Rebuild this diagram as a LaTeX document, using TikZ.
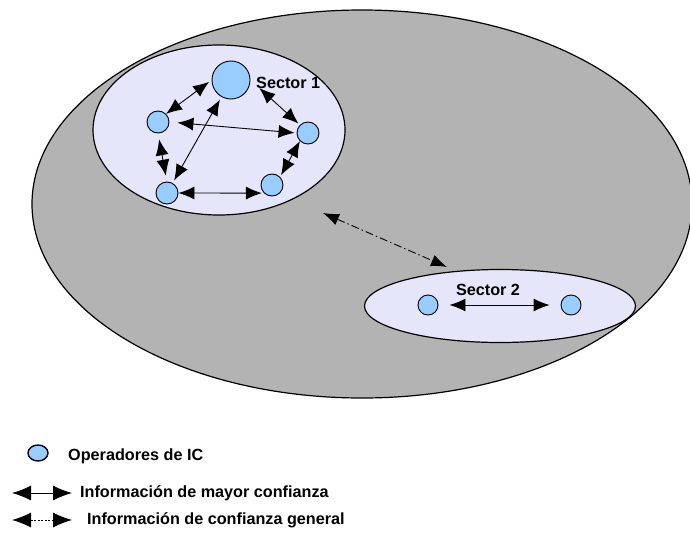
\documentclass[tikz,border=0pt]{standalone}
\usepackage{fontspec}
\setmainfont{Liberation Sans}
\usetikzlibrary{arrows.meta,shapes.geometric}
\definecolor{zonegray}{RGB}{179,179,179}
\definecolor{sectorfill}{RGB}{230,230,250}
\definecolor{icblue}{RGB}{153,204,255}

\tikzset{
  ic/.style={circle,draw,line width=0.9pt,fill=icblue,minimum size=22pt,inner sep=0pt},
  sector/.style={ellipse,draw,line width=1.2pt,fill=sectorfill,inner sep=0pt},
  lbl/.style={font=\fontsize{16.2}{19}\selectfont\bfseries,inner sep=0pt},
  trust/.style={{Latex[length=16pt,width=13pt]}-{Latex[length=16pt,width=13pt]},line width=0.9pt},
  keytrust/.style={{Latex[length=19pt,width=15pt]}-{Latex[length=19pt,width=15pt]},line width=0.9pt},
  general/.style={{Latex[length=16pt,width=12pt]}-{Latex[length=16pt,width=12pt]},line width=0.9pt,
    dash pattern=on 8pt off 3pt on 1.5pt off 3pt}
}

\begin{document}
\begin{tikzpicture}[x=1pt,y=-1pt]
    \useasboundingbox (0,0) rectangle (690,538);

    % whole zone
    \begin{scope}
    \clip (0,0) rectangle (690,538);
    \draw[line width=1.2pt,fill=zonegray] (362,204) ellipse [x radius=330pt,y radius=194pt];
    \end{scope}

    % sector 1
    \node[sector,minimum width=252pt,minimum height=170pt] (s1) at (219,130) {};
    \node[ic,minimum size=38pt] (big) at (231,80) {};
    \node[ic] (left) at (158,122) {};
    \node[ic] (right) at (308,133) {};
    \node[ic] (bl) at (167,193) {};
    \node[ic] (br) at (272,185) {};
    \node[lbl,anchor=west] (t1) at (256,83) {Sector 1};

    \draw[trust,shorten <=3pt] (big.west) -- (left.north east);
    \draw[trust,shorten <=12pt,shorten >=2pt] (big.east) -- (right.north west);
    \draw[trust,shorten <=8pt,shorten >=2pt] (left.east) -- (right.west);
    \draw[trust,shorten <=3pt,shorten >=3pt] (big) -- (bl);
    \draw[trust,shorten <=6pt,shorten >=6pt] (left.south) -- (bl.north);
    \draw[trust,shorten >=2pt] (right.south west) -- (br.north east);
    \draw[trust,shorten >=2pt] (bl.east) -- (br.south west);

    % sector 2
    \node[sector,minimum width=271pt,minimum height=73pt] (s2) at (500,306) {};
    \node[ic,minimum size=20pt] (a1) at (428,305) {};
    \node[ic,minimum size=20pt] (a2) at (571,305) {};
    \node[lbl] (t2) at (488,290) {Sector 2};
    \draw[trust,shorten <=11pt,shorten >=11pt] (a1) -- (a2);

    % between sectors
    \coordinate (g1) at (323,213);
    \coordinate (g2) at (447,267);
    \draw[general] (g1) -- (g2);

    % legend
    \node[ellipse,draw,line width=1.4pt,fill=icblue,minimum width=20pt,minimum height=16pt,inner sep=0pt] (k0) at (38,453) {};
    \node[lbl,anchor=west] (k0t) at (68,456) {Operadores de IC};
    \coordinate (k1a) at (12,493);
    \coordinate (k1b) at (72,493);
    \draw[keytrust] (k1a) -- (k1b);
    \node[lbl,anchor=west] (k1t) at (80,493) {Información de mayor confianza};
    \coordinate (k2a) at (12,520);
    \coordinate (k2b) at (72,520);
    \draw[keytrust,dash pattern=on 2pt off 1.5pt] (k2a) -- (k2b);
    \node[lbl,anchor=west] (k2t) at (87,520) {Información de confianza general};
\end{tikzpicture}
\end{document}
